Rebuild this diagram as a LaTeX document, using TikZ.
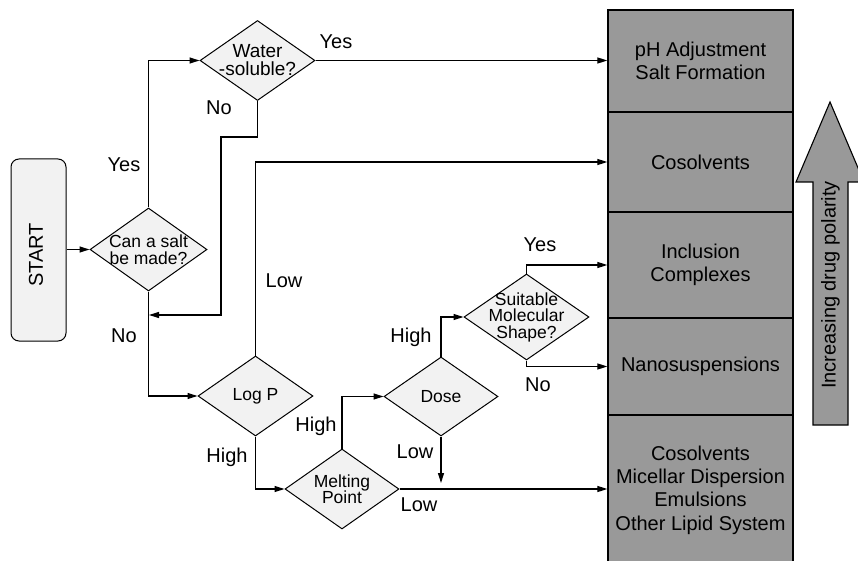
\documentclass[tikz,border=0pt]{standalone}
\usepackage{fontspec}
\setmainfont{Liberation Sans}
\usetikzlibrary{shapes.geometric,arrows.meta}

\definecolor{boxgray}{RGB}{153,153,153}
\definecolor{diagray}{RGB}{242,242,242}

\begin{document}
\begin{tikzpicture}[x=1pt,y=-1pt,line width=1.2pt,
  arr/.style={-{Triangle[length=10pt,width=6pt]}},
  dia/.style={draw,shape=diamond,fill=diagray,line width=1pt,inner sep=0pt},
  diatext/.style={font=\fontsize{17.5}{16.5}\selectfont,align=center,inner sep=0pt},
  lbl/.style={font=\fontsize{20}{23}\selectfont,inner sep=0pt},
  col/.style={draw,fill=boxgray,line width=1.3pt,minimum width=185pt,
    font=\fontsize{20}{23.4}\selectfont,align=center,inner sep=0pt}]
\clip (0,0) rectangle (858,561);

% start
\node[draw,fill=diagray,rounded corners=8pt,line width=1pt,minimum width=55pt,
  minimum height=182pt,inner sep=0pt] (start) at (38.5,250) {};
\node[lbl,rotate=90] (starttxt) at (36,255) {START};

% decisions
\node[dia,minimum width=117pt,minimum height=83pt,
  label={[diatext]center:Can a salt\\be made?}] (salt) at (148.5,249.5) {};
\node[dia,minimum width=115pt,minimum height=80pt,
  label={[diatext,font=\fontsize{19}{18}\selectfont]center:Water\\-soluble?}] (water) at (257.5,60.5) {};
\node[dia,minimum width=115pt,minimum height=80pt,
  label={[diatext]center:Log P}] (logp) at (255.5,396) {};
\node[dia,minimum width=114pt,minimum height=80pt,
  label={[diatext]center:Melting\\Point}] (melt) at (342,489) {};
\node[dia,minimum width=114pt,minimum height=79pt,
  label={[diatext]center:Dose}] (dose) at (441,396.5) {};
\node[dia,minimum width=125pt,minimum height=86pt,
  label={[diatext]center:Suitable\\Molecular\\Shape?}] (suit) at (526.5,317) {};

% outcomes
\node[col,minimum height=102pt] (phbox) at (700.5,61) {pH Adjustment\\Salt Formation};
\node[col,minimum height=100pt] (cosbox) at (700.5,162) {Cosolvents};
\node[col,minimum height=106pt] (inclbox) at (700.5,265) {Inclusion\\Complexes};
\node[col,minimum height=97pt] (nanobox) at (700.5,366.5) {Nanosuspensions};
\node[col,minimum height=150pt] (lipidbox) at (700.5,490) {Cosolvents\\Micellar Dispersion\\Emulsions\\Other Lipid System};

% polarity arrow
\draw[fill=boxgray,line width=1.1pt] (813,425) -- (813,182) -- (796,182) -- (830,102)
  -- (864,182) -- (848,182) -- (848,425) -- cycle;
\node[lbl,rotate=90] (polar) at (830.5,285) {Increasing drug polarity};

% connectors
\coordinate (nojoin) at (149,315);
\coordinate (doseend) at (441,483);
\draw[arr] (salt.west -| start.east) -- (salt.west);
\draw[arr] (salt.north) |- (water.west);
\draw[arr] (water.east) -- (water.east -| phbox.west);
\draw[arr] (water.south) |- (221,137) |- (nojoin);
\draw[arr] (salt.south) |- (logp.west);
\draw[arr] (logp.north) |- (cosbox.west);
\draw[arr] (logp.south) |- (melt.west);
\draw[arr] (melt.north) |- (dose.west);
\draw[arr] (melt.east) -- (melt.east -| lipidbox.west);
\draw[arr] (dose.south) -- (doseend);
\draw[arr] (dose.north) |- (suit.west);
\draw[arr] (suit.north) |- (inclbox.west);
\draw[arr] (suit.south) |- (nanobox.west);

% labels
\node[lbl] (yessol) at (336,42) {Yes};
\node[lbl] (nosol) at (219,108) {No};
\node[lbl] (yessalt) at (124,165) {Yes};
\node[lbl] (nosalt) at (124,336) {No};
\node[lbl] (lowlogp) at (284,281) {Low};
\node[lbl] (highlogp) at (227,457) {High};
\node[lbl] (highmelt) at (316,426) {High};
\node[lbl] (lowmelt) at (419,505) {Low};
\node[lbl] (lowdose) at (415,452) {Low};
\node[lbl] (highdose) at (411,337) {High};
\node[lbl] (yesshape) at (540,245) {Yes};
\node[lbl] (noshape) at (538,385) {No};
\end{tikzpicture}
\end{document}
